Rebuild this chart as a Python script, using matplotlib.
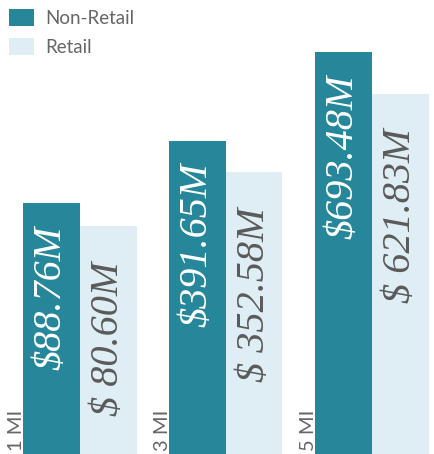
import matplotlib
matplotlib.use("Agg")
import matplotlib.pyplot as plt
from matplotlib.patches import Patch

# ---- data ----
groups = ["1 MI", "3 MI", "5 MI"]
series = ["Non-Retail", "Retail"]
non_retail = [88.76, 391.65, 693.48]
retail = [80.60, 352.58, 621.83]
non_retail_labels = ["$88.76M", "$391.65M", "$693.48M"]
retail_labels = ["$ 80.60M", "$ 352.58M", "$ 621.83M"]
# each group is drawn on its own independent value scale
group_ymax = [160.8, 568.0, 784.0]

# ---- style ----
C_NR = "#27879a"
C_R = "#dfeef4"
C_TXT = "#5a5a5a"
W, H = 434, 454

fig = plt.figure(figsize=(W / 100, H / 100), dpi=100)

group_left = [23, 169, 315]
group_w = 113.5
for i in range(3):
    ax = fig.add_axes([group_left[i] / W, 0, group_w / W, 1])
    ax.bar([0], [non_retail[i]], width=1.0, color=C_NR, linewidth=0)
    ax.bar([1], [retail[i]], width=1.0, color=C_R, linewidth=0)
    ax.set_xlim(-0.5, 1.5)
    ax.set_ylim(0, group_ymax[i])
    ax.axis("off")
    ax.annotate(non_retail_labels[i], xy=(0, non_retail[i]), xytext=(0, -22),
                textcoords="offset pixels", rotation=90, ha="center", va="top",
                fontsize=29, color="white", family="Liberation Serif",
                style="italic", annotation_clip=False)
    ax.annotate(retail_labels[i], xy=(1, retail[i]), xytext=(0, -35),
                textcoords="offset pixels", rotation=90, ha="center", va="top",
                fontsize=29, color=C_TXT, family="Liberation Serif",
                style="italic", annotation_clip=False)
    # group label, rotated, just left of the group's bars
    fig.text((group_left[i] - 7) / W, 1 - 410 / H, groups[i], rotation=90,
             ha="center", va="top", fontsize=14.5, color="#666666",
             family="Lato")

handles = [Patch(facecolor=C_NR, edgecolor="none"),
           Patch(facecolor=C_R, edgecolor="none")]
fig.legend(handles, series, loc="upper left",
           bbox_to_anchor=(9 / W, 1 - 9 / H), frameon=False, borderpad=0,
           borderaxespad=0, handlelength=1.35, handleheight=1.0,
           handletextpad=0.6, labelspacing=0.6,
           prop={"family": "Lato", "size": 13.5}, labelcolor="#666666")

fig.savefig("out.png", dpi=100)
